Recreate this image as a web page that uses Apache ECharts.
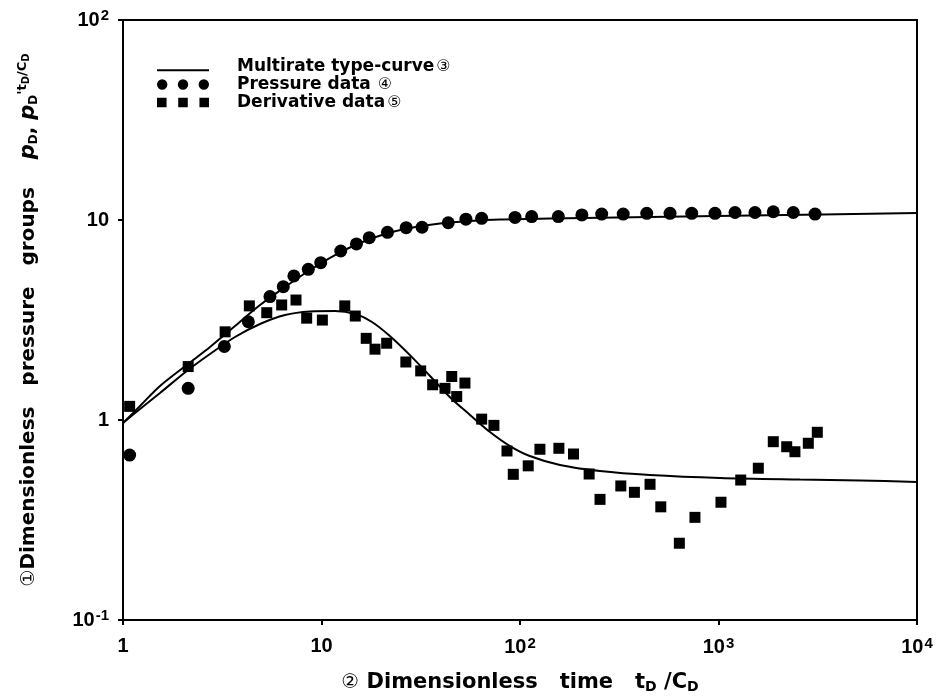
<!DOCTYPE html>
<html>
<head>
<meta charset="utf-8">
<script src="https://cdn.jsdelivr.net/npm/echarts@6/dist/echarts.min.js"></script>
<style>html,body{margin:0;padding:0;background:#fff}#c{width:940px;height:700px}</style>
</head>
<body>
<div id="c"></div>
<script>
// ---- data ----
const pressureX = [1.08, 2.13, 3.24, 4.28, 5.5, 6.42, 7.26, 8.58, 9.91, 12.5, 15.0, 17.4, 21.5, 26.7, 32.1, 43.5, 53.4, 64.1, 94.4, 114.5, 156, 205, 258, 331, 435, 570, 733, 960, 1211, 1527, 1888, 2381, 3064];
const pressureY = [0.668, 1.44, 2.33, 3.10, 4.14, 4.64, 5.25, 5.67, 6.12, 7.0, 7.59, 8.16, 8.68, 9.15, 9.2, 9.69, 10.1, 10.2, 10.3, 10.4, 10.4, 10.6, 10.7, 10.7, 10.8, 10.8, 10.8, 10.8, 10.9, 10.9, 11.0, 10.9, 10.7];

const derivX = [1.08, 2.13, 3.27, 4.33, 5.30, 6.30, 7.44, 8.42, 10.1, 13.1, 14.8, 16.8, 18.6, 21.3, 26.6, 31.6, 36.3, 41.9, 45.3, 48.0, 52.8, 64.1, 73.9, 86.0, 92.5, 110, 126, 157, 186, 223, 253, 322, 377, 452, 512, 635, 761, 1029, 1294, 1587, 1888, 2206, 2427, 2834, 3146];
const derivY = [1.17, 1.85, 2.76, 3.72, 3.44, 3.76, 3.98, 3.23, 3.16, 3.72, 3.31, 2.56, 2.26, 2.42, 1.95, 1.76, 1.50, 1.44, 1.65, 1.31, 1.53, 1.01, 0.94, 0.70, 0.535, 0.59, 0.714, 0.722, 0.676, 0.537, 0.401, 0.468, 0.435, 0.477, 0.368, 0.242, 0.326, 0.388, 0.501, 0.574, 0.779, 0.735, 0.694, 0.765, 0.868];

// type-curve (pressure)
const curvePX = [1, 1.218, 1.536, 2.126, 2.744, 3.666, 4.90, 6.55, 8.75, 11.7, 15.63, 20.89, 27.92, 39.5, 56.0, 79.3, 141.6, 451, 1441, 10000];
const curvePY = [0.966, 1.175, 1.479, 1.905, 2.317, 2.951, 3.758, 4.624, 5.623, 6.683, 7.674, 8.511, 9.12, 9.61, 9.886, 10.06, 10.17, 10.35, 10.53, 10.84];

// type-curve (derivative)
const curveDX = [1, 1.218, 1.536, 2.126, 2.744, 3.666, 4.90, 6.55, 8.75, 11.7, 14.8, 17.96, 22.1, 27.9, 35.2, 44.4, 56.0, 70.6, 89.0, 112, 159, 253, 451, 1018, 2572, 5164, 10000];
const curveDY = [0.966, 1.135, 1.365, 1.778, 2.138, 2.60, 3.02, 3.35, 3.49, 3.51, 3.39, 3.09, 2.63, 2.11, 1.66, 1.30, 1.06, 0.871, 0.741, 0.661, 0.596, 0.556, 0.531, 0.513, 0.504, 0.499, 0.49];

const xTickLabels = {0: '1', 1: '10', 2: '10{s|2}', 3: '10{s|3}', 4: '10{s|4}'};
const yTickLabels = {'-1': '10{s|-1}', 0: '1', 1: '10', 2: '10{s|2}'};

const legendNames = ['Multirate type-curve', 'Pressure data', 'Derivative data'];
const legendMarks = ['③', ' ④', '⑤'];

// ---- chart ----
const zip = (a, b) => a.map((v, i) => [v, b[i]]);
const FONT = '"Liberation Sans", Arial, sans-serif';
const DV = '"DejaVu Sans", sans-serif';
const CIRC = '"DejaVu Sans", "Noto Sans CJK JP", sans-serif';
const labelRich = {
  s: {fontSize: 15, fontWeight: 'bold', fontFamily: FONT, color: '#000', padding: [0, 0, 8, 1]}
};

const chart = echarts.init(document.getElementById('c'), null, {renderer: 'canvas'});
chart.setOption({
  backgroundColor: '#fff',
  animation: false,
  grid: {left: 123, right: 23, top: 20, bottom: 80, show: true, borderColor: '#000', borderWidth: 2},
  legend: {
    orient: 'vertical', left: 152, top: 53, itemWidth: 52, itemHeight: 12, itemGap: 1,
    data: [
      {name: legendNames[0], icon: 'path://M0,0 M0,9 L55,9 L55,11 L0,11 Z M0,12'},
      {name: legendNames[1], icon: 'path://M0,5 A5,5 0 1,1 10,5 A5,5 0 1,1 0,5 Z M20,5 A5,5 0 1,1 30,5 A5,5 0 1,1 20,5 Z M40,5 A5,5 0 1,1 50,5 A5,5 0 1,1 40,5 Z'},
      {name: legendNames[2], icon: 'path://M0,1 L9,1 L9,10 L0,10 Z M20,1 L29,1 L29,10 L20,10 Z M40,1 L49,1 L49,10 L40,10 Z M0,0 M0,11'}
    ],
    formatter: n => '{g| }{b|' + n + '}{c|' + legendMarks[legendNames.indexOf(n)] + '}',
    textStyle: {
      rich: {
        g: {width: 23},
        b: {fontSize: 17, fontWeight: 'bold', fontFamily: DV, color: '#000', lineHeight: 17},
        c: {fontSize: 16, fontWeight: 'normal', fontFamily: CIRC, color: '#000', lineHeight: 17, padding: [0, 0, 0, 2]}
      }
    }
  },
  xAxis: {
    type: 'log', logBase: 10, min: 1, max: 10000,
    splitLine: {show: false},
    axisLine: {lineStyle: {color: '#000', width: 2}},
    axisTick: {show: true, length: 5, lineStyle: {color: '#000', width: 2}},
    axisLabel: {
      margin: 16, color: '#000', fontSize: 20, fontWeight: 'bold', fontFamily: FONT,
      formatter: v => xTickLabels[Math.round(Math.log10(v))] ?? '',
      rich: labelRich
    },
    name: '{c|②}{b| Dimensionless   time   t}{u|D}{b| /C}{u|D}',
    nameLocation: 'middle', nameGap: 51,
    nameTextStyle: {
      rich: {
        c: {fontSize: 20, fontFamily: CIRC, color: '#000'},
        b: {fontSize: 21, fontWeight: 'bold', fontFamily: DV, color: '#000'},
        u: {fontSize: 14, fontWeight: 'bold', fontFamily: DV, color: '#000', padding: [9, 0, 0, 0]}
      }
    }
  },
  yAxis: {
    type: 'log', logBase: 10, min: 0.1, max: 100,
    splitLine: {show: false},
    axisLine: {lineStyle: {color: '#000', width: 2}},
    axisTick: {show: true, length: 5, lineStyle: {color: '#000', width: 2}},
    axisLabel: {
      margin: 14, color: '#000', fontSize: 20, fontWeight: 'bold', fontFamily: FONT,
      formatter: v => yTickLabels[Math.round(Math.log10(v))] ?? '',
      rich: labelRich
    },
    name: '{c|①}{b|Dimensionless   pressure   groups    }{i|p}{u|D}{b|, }{i|p}{u|D}{t|\'}{f|t}{fu|D}{f|/C}{fu|D}',
    nameLocation: 'middle', nameGap: 81, nameRotate: 90,
    nameTextStyle: {
      rich: {
        c: {fontSize: 19, fontFamily: CIRC, color: '#000'},
        b: {fontSize: 20, fontWeight: 'bold', fontFamily: DV, color: '#000'},
        i: {fontSize: 21, fontWeight: 'bold', fontStyle: 'italic', fontFamily: DV, color: '#000'},
        u: {fontSize: 12, fontWeight: 'bold', fontFamily: DV, color: '#000', padding: [10, 0, 0, 0]},
        t: {fontSize: 14, fontWeight: 'bold', fontFamily: DV, color: '#000', padding: [0, 0, 12, 0]},
        f: {fontSize: 13, fontWeight: 'bold', fontFamily: DV, color: '#000', padding: [0, 0, 12, 0]},
        fu: {fontSize: 10, fontWeight: 'bold', fontFamily: DV, color: '#000', padding: [0, 0, 6, 0]}
      }
    }
  },
  series: [
    {name: legendNames[0], type: 'line', data: zip(curvePX, curvePY), smooth: 0.3, showSymbol: false, symbol: 'none',
     lineStyle: {color: '#000', width: 2}, itemStyle: {color: '#000'}, z: 2},
    {name: legendNames[0], type: 'line', data: zip(curveDX, curveDY), smooth: 0.3, showSymbol: false, symbol: 'none',
     lineStyle: {color: '#000', width: 2}, itemStyle: {color: '#000'}, z: 2},
    {name: legendNames[1], type: 'scatter', data: zip(pressureX, pressureY), symbol: 'circle', symbolSize: 13,
     itemStyle: {color: '#000', opacity: 1}, z: 3},
    {name: legendNames[2], type: 'scatter', data: zip(derivX, derivY), symbol: 'rect', symbolSize: 11,
     itemStyle: {color: '#000', opacity: 1}, z: 3}
  ]
});
</script>
</body>
</html>
